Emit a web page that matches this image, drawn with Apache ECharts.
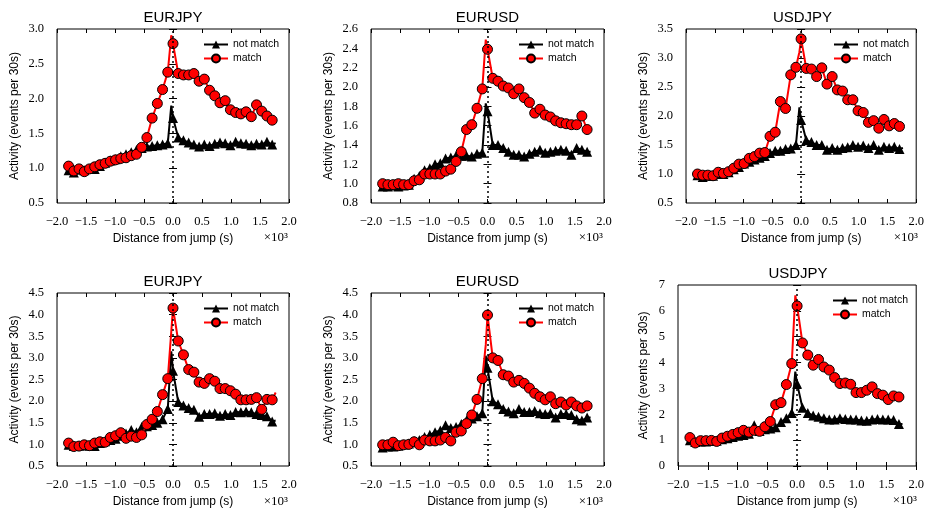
<!DOCTYPE html>
<html><head><meta charset="utf-8">
<script src="https://cdn.jsdelivr.net/npm/echarts@6/dist/echarts.min.js"></script>
<style>html,body{margin:0;padding:0;background:#fff}#c{width:927px;height:509px}</style>
</head><body><div id="c"></div>
<script>
// ---------- data ----------
const distances = [-1800,-1710,-1620,-1530,-1440,-1350,-1260,-1170,-1080,-990,-900,-810,-720,-630,-540,-450,-360,-270,-180,-90,0,90,180,270,360,450,540,630,720,810,900,990,1080,1170,1260,1350,1440,1530,1620,1710];
const peakDistance = -30;
const endDistance = 1770;
const titles = ['EURJPY','EURUSD','USDJPY','EURJPY','EURUSD','USDJPY'];
const seriesNames = ['not match','match'];

const topEURJPY_notMatch = [0.97,0.94,0.98,0.97,0.99,0.99,1.03,1.08,1.11,1.13,1.17,1.20,1.23,1.26,1.29,1.31,1.32,1.33,1.34,1.36,1.72,1.44,1.40,1.37,1.34,1.31,1.34,1.32,1.35,1.37,1.36,1.33,1.38,1.36,1.35,1.33,1.35,1.34,1.38,1.34];
const topEURJPY_match    = [1.03,0.96,0.99,0.95,0.99,1.02,1.05,1.07,1.10,1.12,1.14,1.15,1.18,1.20,1.30,1.44,1.72,1.93,2.13,2.38,2.79,2.36,2.34,2.34,2.36,2.25,2.28,2.12,2.04,1.94,1.97,1.84,1.80,1.78,1.81,1.74,1.91,1.82,1.75,1.69];
const topEURUSD_notMatch = [0.97,0.97,0.98,0.97,0.98,0.99,1.05,1.08,1.14,1.16,1.20,1.21,1.26,1.27,1.29,1.29,1.29,1.28,1.31,1.32,1.75,1.40,1.40,1.37,1.33,1.30,1.30,1.28,1.31,1.33,1.35,1.32,1.33,1.34,1.35,1.34,1.30,1.37,1.35,1.33];
const topEURUSD_match    = [1.00,0.99,0.99,1.00,0.99,0.99,1.03,1.04,1.10,1.10,1.10,1.10,1.13,1.15,1.23,1.33,1.56,1.61,1.78,1.98,2.39,2.09,2.06,2.01,1.99,1.93,1.98,1.89,1.84,1.73,1.77,1.71,1.69,1.65,1.63,1.62,1.61,1.61,1.70,1.56];
const topUSDJPY_notMatch = [0.98,0.95,0.97,0.97,1.00,1.00,1.03,1.08,1.12,1.18,1.21,1.25,1.28,1.31,1.36,1.40,1.40,1.43,1.44,1.50,1.93,1.58,1.55,1.50,1.50,1.42,1.45,1.42,1.45,1.46,1.50,1.47,1.49,1.45,1.50,1.42,1.47,1.45,1.47,1.43];
const topUSDJPY_match    = [1.00,0.98,0.98,0.97,1.03,1.01,1.04,1.10,1.17,1.18,1.27,1.30,1.36,1.37,1.65,1.72,2.25,2.13,2.71,2.84,3.33,2.82,2.81,2.68,2.83,2.55,2.68,2.45,2.43,2.28,2.28,2.09,2.06,1.89,1.92,1.79,1.94,1.83,1.87,1.82];
const botEURJPY_notMatch = [0.99,0.96,0.97,0.98,0.97,0.96,1.03,1.07,1.10,1.13,1.20,1.25,1.33,1.28,1.40,1.42,1.45,1.50,1.58,1.82,2.70,1.98,1.90,1.84,1.80,1.64,1.70,1.70,1.72,1.66,1.70,1.68,1.75,1.74,1.76,1.74,1.70,1.68,1.65,1.53];
const botEURJPY_match    = [1.03,0.95,0.96,0.99,0.97,1.03,1.06,1.05,1.16,1.20,1.27,1.14,1.19,1.16,1.22,1.46,1.58,1.76,2.15,2.52,4.15,3.39,3.07,2.73,2.67,2.44,2.41,2.52,2.46,2.29,2.29,2.24,2.16,2.03,2.03,2.04,2.08,1.81,2.04,2.03];
const botEURUSD_notMatch = [0.93,0.95,0.95,0.97,1.00,1.02,1.08,1.10,1.17,1.22,1.28,1.32,1.44,1.38,1.40,1.47,1.55,1.60,1.65,1.72,2.77,2.00,1.93,1.82,1.76,1.72,1.82,1.75,1.75,1.77,1.72,1.70,1.72,1.62,1.70,1.70,1.68,1.58,1.55,1.62];
const botEURUSD_match    = [0.99,0.99,1.05,0.97,0.99,1.00,1.06,0.99,1.10,1.08,1.08,1.10,1.16,1.08,1.28,1.31,1.48,1.68,2.04,2.52,3.99,3.00,2.94,2.61,2.58,2.44,2.48,2.41,2.30,2.18,2.10,2.03,2.10,1.94,1.98,1.91,1.98,1.89,1.84,1.89];
const botUSDJPY_notMatch = [1.00,0.93,0.95,0.95,0.97,0.98,1.03,1.07,1.12,1.17,1.20,1.25,1.58,1.35,1.42,1.45,1.50,1.70,1.85,2.05,3.18,2.25,2.05,1.95,1.90,1.85,1.80,1.80,1.85,1.82,1.80,1.80,1.76,1.75,1.80,1.82,1.80,1.80,1.78,1.62];
const botUSDJPY_match    = [1.10,0.89,0.98,0.98,0.99,0.95,1.08,1.15,1.22,1.29,1.38,1.31,1.38,1.34,1.52,1.72,2.37,2.45,3.15,3.96,6.19,4.76,4.29,3.90,4.12,3.83,3.71,3.42,3.19,3.21,3.16,2.84,2.84,2.93,3.06,2.80,2.74,2.57,2.71,2.67];

// unmarked line points (spike just before the jump, and last bin)
const peakNotMatch = [1.90, 1.83, 2.15, 3.15, 3.05, 3.65];
const peakMatch    = [2.91, 2.49, 3.10, 3.60, 3.30, 6.60];
const endNotMatch  = [1.36, 1.33, 1.45, 1.55, 1.62, 1.62];
const endMatch     = [1.72, 1.57, 1.75, 2.20, 1.95, 2.70];

// axis ranges / tick labels
const yMin  = [0.5, 0.8, 0.5, 0.5, 0.5, 0];
const yMax  = [3.0, 2.6, 3.5, 4.5, 4.5, 7];
const yStep = [0.5, 0.2, 0.5, 0.5, 0.5, 1];
const yDecimals = [1, 1, 1, 1, 1, 0];
const xMin = -2000, xMax = 2000, xStep = 500;

// ---------- layout ----------
const grids = [
  {left: 57,  top: 29,  width: 232, height: 174},
  {left: 371, top: 29,  width: 233, height: 174},
  {left: 686, top: 29,  width: 233, height: 174},
  {left: 57,  top: 293, width: 232, height: 174},
  {left: 371, top: 293, width: 233, height: 174},
  {left: 678, top: 285, width: 240, height: 181}
];
const yNameGap = [36, 36, 36, 36, 36, 28];

const notMatchData = [topEURJPY_notMatch, topEURUSD_notMatch, topUSDJPY_notMatch, botEURJPY_notMatch, botEURUSD_notMatch, botUSDJPY_notMatch];
const matchData    = [topEURJPY_match, topEURUSD_match, topUSDJPY_match, botEURJPY_match, botEURUSD_match, botUSDJPY_match];

const SERIF = '"Liberation Serif", "DejaVu Serif", serif';
const SANS = '"Liberation Sans", Arial, sans-serif';
const minus = s => s.replace('-', '\u2212');

function buildLine(vals, peak, end) {
  const pts = distances.map((d, i) => ({value: [d, vals[i]]}));
  pts.push({value: [peakDistance, peak], symbol: 'none'});
  pts.push({value: [endDistance, end], symbol: 'none'});
  pts.sort((a, b) => a.value[0] - b.value[0]);
  return pts;
}

const option = {
  animation: false,
  backgroundColor: '#fff',
  grid: [], xAxis: [], yAxis: [], series: [], legend: [], graphic: []
};

grids.forEach((g, k) => {
  option.grid.push({left: g.left, top: g.top, width: g.width, height: g.height,
    show: true, borderColor: '#000', borderWidth: 1, backgroundColor: 'transparent', containLabel: false});
  const tick = {show: true, inside: true, length: 4, lineStyle: {color: '#000', width: 1}};
  option.xAxis.push({type: 'value', gridIndex: k, min: xMin, max: xMax, interval: xStep, position: 'bottom',
    axisLine: {show: false}, axisTick: tick, splitLine: {show: false},
    axisLabel: {color: '#000', fontFamily: SERIF, fontSize: 12.5, margin: 12,
      formatter: v => minus((v / 1000).toFixed(1))},
    name: 'Distance from jump (s)', nameLocation: 'middle', nameGap: 30,
    nameTextStyle: {color: '#000', fontFamily: SANS, fontSize: 12}});
  option.xAxis.push({type: 'value', gridIndex: k, min: xMin, max: xMax, interval: xStep, position: 'top',
    axisLine: {show: false}, axisTick: tick, splitLine: {show: false}, axisLabel: {show: false}});
  option.yAxis.push({type: 'value', gridIndex: k, min: yMin[k], max: yMax[k], interval: yStep[k], position: 'left',
    axisLine: {show: false}, axisTick: tick, splitLine: {show: false},
    axisLabel: {color: '#000', fontFamily: SERIF, fontSize: 12.5, margin: 13,
      formatter: v => v.toFixed(yDecimals[k])},
    name: 'Activity (events per 30s)', nameLocation: 'middle', nameGap: yNameGap[k],
    nameTextStyle: {color: '#000', fontFamily: SANS, fontSize: 12}});
  option.yAxis.push({type: 'value', gridIndex: k, min: yMin[k], max: yMax[k], interval: yStep[k], position: 'right',
    axisLine: {show: false}, axisTick: tick, splitLine: {show: false}, axisLabel: {show: false}});

  option.series.push({
    name: seriesNames[0], type: 'line', xAxisIndex: 2 * k, yAxisIndex: 2 * k,
    data: buildLine(notMatchData[k], peakNotMatch[k], endNotMatch[k]),
    symbol: 'triangle', symbolSize: 10, showAllSymbol: true,
    lineStyle: {color: '#000', width: 2}, itemStyle: {color: '#000', borderColor: '#000', borderWidth: 0},
    markLine: {silent: true, symbol: ['none', 'none'], label: {show: false},
      lineStyle: {color: '#000', type: [2, 3], width: 1.5}, data: [{xAxis: 0}]},
    z: 2
  });
  option.series.push({
    name: seriesNames[1], type: 'line', xAxisIndex: 2 * k, yAxisIndex: 2 * k,
    data: buildLine(matchData[k], peakMatch[k], endMatch[k]),
    symbol: 'circle', symbolSize: 10, showAllSymbol: true,
    lineStyle: {color: '#ff0000', width: 2}, itemStyle: {color: '#ff0000', borderColor: '#000', borderWidth: 1},
    z: 3
  });

  option.legend.push({
    data: seriesNames, orient: 'vertical', left: g.left + g.width - 91, top: g.top + 5,
    itemWidth: 24, itemHeight: 10, itemGap: 3,
    textStyle: {color: '#000', fontFamily: SANS, fontSize: 10.5},
    selectedMode: false, backgroundColor: 'transparent'
  });

  option.graphic.push({type: 'text', x: g.left + g.width / 2, y: g.top - 11, silent: true,
    style: {text: titles[k], font: '15px ' + SANS, fill: '#000', textAlign: 'center', textVerticalAlign: 'middle', align: 'center', verticalAlign: 'middle'}});
  option.graphic.push({type: 'text', x: g.left + g.width - 1, y: g.top + g.height + 35, silent: true,
    style: {text: '\u00d710\u00b3', font: '13px ' + SERIF, fill: '#000', textAlign: 'right', textVerticalAlign: 'middle', align: 'right', verticalAlign: 'middle'}});
});

const chart = echarts.init(document.getElementById('c'), null, {renderer: 'canvas'});
chart.setOption(option);
</script>
</body></html>
